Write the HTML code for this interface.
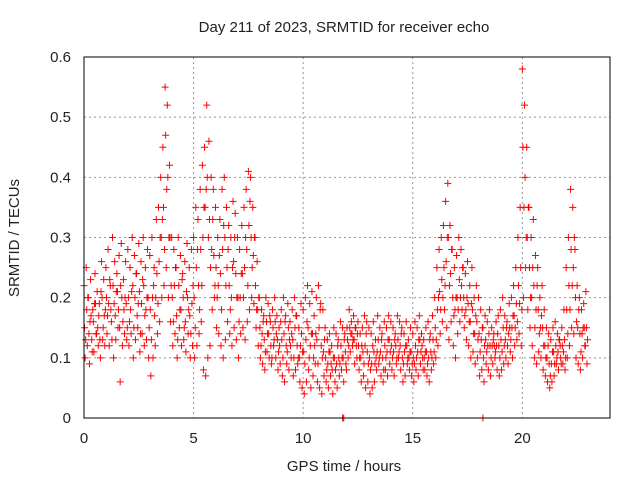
<!DOCTYPE html>
<html><head><meta charset="utf-8"><style>
body{margin:0;background:#fff}
text{font-family:"Liberation Sans",sans-serif;font-size:15px;fill:#222}
</style></head><body>
<svg id="chart" width="640" height="480" xmlns="http://www.w3.org/2000/svg">
<text x="344" y="32" text-anchor="middle">Day 211 of 2023, SRMTID for receiver echo</text>
<text transform="translate(19,238) rotate(-90)" text-anchor="middle">SRMTID / TECUs</text>
<text x="344" y="471" text-anchor="middle">GPS time / hours</text>
<g id="grid"></g>
<g id="ticks"></g>
<g id="marks"></g>
<rect x="84" y="57" width="526" height="361" fill="none" stroke="#000" stroke-width="1"/>
</svg>
<script>
const xTicks=[0,5,10,15,20];
const yTicks=[0,0.1,0.2,0.3,0.4,0.5,0.6];
const yTickLabels=["0","0.1","0.2","0.3","0.4","0.5","0.6"];
const hiVals=[.22,.25,.2,.23,.18,.24,.21,.19,.26,.23,
.25,.28,.22,.3,.26,.24,.27,.29,.23,.26,
.28,.25,.3,.27,.24,.29,.26,.3,.25,.28,
.27,.3,.25,.33,.35,.4,.45,.55,.52,.42,
.3,.28,.25,.3,.27,.24,.26,.29,.25,.28,
.3,.35,.33,.38,.42,.45,.52,.46,.4,.38,
.35,.3,.33,.38,.4,.35,.32,.3,.36,.34,
.3,.28,.32,.35,.38,.41,.4,.35,.3,.26,
.2,.18,.17,.2,.19,.16,.18,.2,.17,.15,
.18,.2,.17,.19,.16,.18,.2,.17,.15,.19,
.18,.2,.22,.19,.21,.17,.2,.22,.19,.18,
.15,.13,.14,.12,.15,.14,.13,.16,.15,.14,
.15,.18,.16,.17,.15,.16,.14,.15,.17,.16,
.15,.14,.16,.13,.17,.15,.14,.16,.15,.17,
.16,.15,.14,.17,.16,.15,.14,.16,.13,.15,
.14,.16,.15,.17,.14,.13,.15,.16,.14,.17,
.2,.25,.28,.3,.32,.36,.39,.32,.28,.25,
.27,.3,.28,.25,.24,.26,.22,.25,.2,.22,
.2,.18,.15,.17,.16,.18,.15,.14,.16,.17,
.18,.2,.17,.16,.19,.2,.22,.25,.3,.35,
.58,.52,.45,.35,.3,.33,.27,.25,.2,.22,
.18,.15,.14,.13,.15,.16,.14,.13,.15,.18,
.25,.3,.38,.35,.28,.22,.2,.18,.19,.21];
const loVals=[.1,.12,.09,.13,.11,.14,.12,.1,.13,.12,
.14,.12,.16,.1,.13,.15,.06,.12,.14,.13,
.12,.14,.1,.13,.15,.11,.14,.12,.13,.1,
.07,.1,.12,.14,.16,.2,.22,.25,.2,.16,
.12,.14,.1,.15,.12,.13,.11,.14,.1,.12,
.1,.12,.14,.16,.08,.07,.1,.12,.18,.2,
.15,.14,.12,.1,.13,.16,.14,.12,.15,.13,
.1,.14,.15,.13,.16,.18,.2,.19,.15,.12,
.1,.09,.08,.11,.1,.09,.12,.1,.08,.09,
.07,.06,.09,.08,.1,.07,.08,.09,.06,.05,
.04,.06,.08,.05,.07,.09,.06,.05,.04,.07,
.06,.05,.07,.04,.06,.05,.07,.08,.06,.09,
.1,.11,.12,.09,.1,.08,.06,.07,.05,.06,
.04,.05,.06,.08,.09,.07,.06,.08,.07,.09,
.08,.07,.09,.1,.08,.06,.07,.09,.08,.07,
.06,.08,.07,.09,.1,.08,.07,.06,.08,.09,
.1,.12,.14,.16,.18,.15,.13,.16,.12,.1,
.14,.16,.18,.15,.13,.12,.1,.11,.09,.1,
.07,.08,.06,.09,.08,.07,.09,.1,.08,.07,
.08,.09,.1,.09,.11,.1,.12,.13,.14,.12,
.2,.25,.18,.15,.12,.1,.09,.11,.1,.08,
.07,.06,.05,.06,.07,.09,.08,.1,.09,.08,
.1,.12,.15,.14,.1,.09,.08,.1,.12,.09];
const midAVals=[.15,.18,.14,.17,.16,.19,.15,.13,.2,.17,
.2,.19,.18,.22,.17,.21,.15,.2,.18,.19,
.2,.18,.22,.2,.17,.21,.19,.22,.18,.2,
.18,.2,.17,.24,.26,.3,.35,.47,.4,.3,
.2,.22,.17,.22,.18,.2,.16,.2,.17,.19,
.2,.25,.22,.28,.3,.35,.4,.33,.28,.27,
.25,.22,.24,.28,.3,.25,.22,.2,.26,.24,
.2,.2,.24,.25,.28,.32,.3,.27,.22,.18,
.15,.14,.13,.16,.14,.12,.15,.16,.13,.12,
.13,.14,.12,.15,.12,.13,.15,.12,.1,.14,
.11,.13,.15,.12,.14,.12,.13,.15,.12,.11,
.1,.09,.11,.08,.1,.09,.1,.12,.1,.11,
.13,.15,.14,.13,.12,.12,.1,.11,.12,.11,
.1,.09,.11,.1,.13,.11,.1,.12,.11,.13,
.12,.11,.12,.13,.12,.1,.11,.12,.1,.11,
.1,.12,.11,.13,.12,.1,.11,.1,.11,.13,
.15,.18,.21,.23,.25,.26,.3,.24,.2,.18,
.2,.23,.22,.2,.18,.19,.16,.18,.14,.16,
.14,.13,.1,.13,.12,.12,.12,.12,.12,.12,
.13,.15,.13,.12,.15,.15,.17,.19,.22,.25,
.45,.4,.3,.25,.2,.22,.18,.18,.15,.15,
.12,.1,.09,.09,.11,.12,.11,.12,.12,.13,
.18,.22,.28,.25,.2,.15,.14,.14,.15,.15];
const midBVals=[.13,.2,.16,.11,.19,.14,.17,.21,.15,.18,
.17,.23,.13,.19,.21,.18,.22,.16,.2,.15,
.16,.21,.15,.24,.19,.14,.23,.17,.2,.15,
.13,.22,.2,.19,.3,.33,.28,.38,.3,.22,
.16,.25,.13,.18,.23,.15,.21,.18,.14,.22,
.15,.28,.18,.22,.35,.38,.3,.25,.33,.22,
.2,.27,.18,.32,.22,.28,.18,.25,.3,.2,
.16,.24,.2,.3,.22,.36,.25,.3,.18,.2,
.12,.16,.11,.14,.17,.1,.13,.14,.11,.16,
.1,.16,.11,.13,.14,.1,.17,.1,.12,.11,
.09,.16,.1,.14,.1,.14,.09,.18,.1,.13,
.08,.11,.09,.1,.08,.12,.09,.1,.13,.08,
.12,.14,.13,.15,.14,.1,.12,.09,.14,.09,
.08,.12,.09,.11,.1,.13,.08,.1,.13,.11,
.1,.13,.1,.11,.14,.09,.12,.1,.11,.09,
.09,.1,.13,.11,.08,.11,.09,.13,.1,.11,
.13,.2,.18,.2,.22,.3,.22,.28,.17,.2,
.18,.2,.25,.17,.2,.16,.19,.14,.17,.13,
.11,.15,.12,.11,.14,.1,.13,.11,.14,.1,
.11,.12,.15,.14,.13,.17,.15,.16,.19,.18,
.35,.3,.35,.2,.25,.15,.22,.14,.17,.12,
.1,.12,.07,.11,.09,.1,.13,.09,.11,.1,
.14,.18,.22,.3,.16,.18,.11,.15,.12,.13];
const zeroTimes=[11.8,11.85,18.2];
const NS='http://www.w3.org/2000/svg';
function xs(t){return 84+t*(526/24);}
function ys(v){return 418-v*(361/0.6);}
function mk(tag,attrs,parent){const e=document.createElementNS(NS,tag);for(const k in attrs)e.setAttribute(k,attrs[k]);parent.appendChild(e);return e;}
const grid=document.getElementById('grid'),ticks=document.getElementById('ticks'),marks=document.getElementById('marks');
xTicks.forEach(t=>{
  const x=xs(t);
  if(t>0){const g=mk('line',{x1:x,x2:x,y1:57,y2:418,stroke:'#999','stroke-dasharray':'2,3'},grid);
  
  }
  const l=mk('text',{x:x,y:443,'text-anchor':'middle'},ticks);l.textContent=t;
  
  
});
yTicks.forEach((v,i)=>{
  const y=ys(v);
  if(i>0&&i<yTicks.length-1){const g=mk('line',{x1:84,x2:610,y1:y,y2:y,stroke:'#999','stroke-dasharray':'2,3'},grid);
  
  }
  const l=mk('text',{x:71,y:y+5,'text-anchor':'end'},ticks);l.textContent=yTickLabels[i];
  
  
});
function plus(t,v,color){
  const x=xs(t),y=ys(v);
  const p=mk('path',{d:`M${x-3.5},${y}H${x+3.5}M${x},${y-3.5}V${y+3.5}`,stroke:color,'stroke-width':1,fill:'none'},marks);
  
  
}
hiVals.forEach((v,i)=>{plus(i*0.1,v,'red');});
loVals.forEach((v,i)=>{plus(i*0.1+0.05,v,'red');});
midAVals.forEach((v,i)=>{plus(i*0.1+0.025,v,'red');});
midBVals.forEach((v,i)=>{plus(i*0.1+0.075,v,'red');});
zeroTimes.forEach(t=>plus(t,0,'red'));
</script>
</body></html>
